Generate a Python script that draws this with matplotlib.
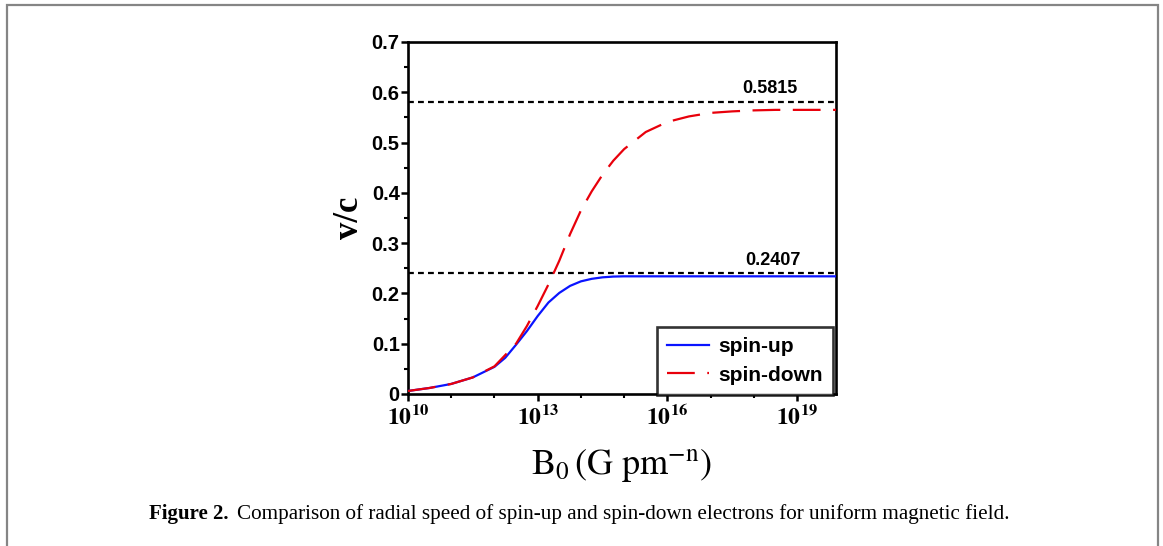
import matplotlib
matplotlib.use('Agg')
import matplotlib.pyplot as plt
from matplotlib.patches import Rectangle
from matplotlib.ticker import NullLocator, NullFormatter

# data (log10 of B0, v/c)
logB_up = [10.0, 10.5, 11.0, 11.5, 12.0, 12.25, 12.5, 12.75, 13.0, 13.25, 13.5, 13.75,
           14.0, 14.25, 14.5, 14.75, 15.0, 16.0, 17.0, 18.0, 19.0, 19.9]
v_up = [0.006, 0.012, 0.020, 0.033, 0.054, 0.072, 0.098, 0.125, 0.155, 0.182, 0.201, 0.215,
        0.224, 0.229, 0.232, 0.2335, 0.234, 0.234, 0.234, 0.234, 0.234, 0.234]

logB_down = [10.0, 10.5, 11.0, 11.5, 12.0, 12.5, 12.75, 13.0, 13.25, 13.5, 13.75, 14.0,
             14.25, 14.5, 14.75, 15.0, 15.5, 16.0, 16.5, 17.0, 17.5, 18.0, 18.5, 19.0, 19.9]
v_down = [0.006, 0.012, 0.020, 0.033, 0.055, 0.100, 0.135, 0.175, 0.218, 0.265, 0.318, 0.365,
          0.403, 0.436, 0.464, 0.487, 0.521, 0.541, 0.552, 0.559, 0.562, 0.564, 0.565, 0.565, 0.565]

limits = [0.5815, 0.2407]
limit_label_logB = [18.38, 18.45]

xmajor = [10, 13, 16, 19]
xminor = [11, 12, 14, 15, 17, 18]
yticks = [0, 0.1, 0.2, 0.3, 0.4, 0.5, 0.6, 0.7]
ytick_labels = ['0', '0.1', '0.2', '0.3', '0.4', '0.5', '0.6', '0.7']

plt.rcParams['mathtext.fontset'] = 'stix'
plt.rcParams['lines.scale_dashes'] = False

fig = plt.figure(figsize=(11.63, 5.46), dpi=100)
ax = fig.add_axes([0.3508, 0.2784, 0.368, 0.6447])

ax.plot([10 ** v for v in logB_up], v_up, color='#0a14ff', lw=1.6, label='spin-up', zorder=3)
ax.plot([10 ** v for v in logB_down], v_down, color='#e8000b', lw=1.6, dashes=(20, 9),
        label='spin-down', zorder=4)

for val, lx in zip(limits, limit_label_logB):
    ax.axhline(val, color='black', lw=1.6, dashes=(4.2, 3.0), zorder=2)
    ax.annotate('%.4f' % val, (10 ** lx, val), xytext=(0, 3), textcoords='offset points',
                ha='center', va='bottom', fontsize=13, fontweight='bold',
                family='Liberation Sans')

ax.set_xscale('log')
ax.set_xlim(10 ** 10, 10 ** 19.9)
ax.set_ylim(0, 0.7)

ax.set_xticks([10.0 ** v for v in xmajor])
ax.xaxis.set_minor_locator(NullLocator())
ax.set_xticks([10.0 ** v for v in xminor], minor=True)
ax.xaxis.set_minor_formatter(NullFormatter())
ax.set_xticklabels([r'$\mathbf{10^{%d}}$' % v for v in xmajor], fontsize=17)

ax.set_yticks(yticks)
ax.set_yticks([0.05, 0.15, 0.25, 0.35, 0.45, 0.55, 0.65], minor=True)
ax.set_yticklabels(ytick_labels, fontsize=14.5, fontweight='bold', family='Liberation Sans')

ax.tick_params(which='major', direction='out', length=5, width=1.8, pad=3)
ax.tick_params(axis='y', which='major', pad=1)
ax.tick_params(which='minor', direction='out', length=3, width=1.5)
ax.tick_params(top=False, right=False)
for s in ax.spines.values():
    s.set_linewidth(1.9)

ax.set_xlabel(r'$\mathrm{B_0\,(G\ pm^{-n})}$', fontsize=26)
ax.xaxis.set_label_coords(0.5, -0.15)
ax.set_ylabel('v/c', fontsize=25, fontweight='bold', family='Liberation Serif')
ax.yaxis.set_label_coords(-0.097, 0.5)

leg = ax.legend(loc='lower right', bbox_to_anchor=(0.994, -0.003),
                prop={'family': 'Liberation Sans', 'weight': 'bold', 'size': 15},
                frameon=True, fancybox=False, edgecolor='black', handlelength=2.0,
                handletextpad=0.45, labelspacing=0.45, borderaxespad=0.0, borderpad=0.5)
leg.get_frame().set_linewidth(1.9)
leg.set_zorder(10)

# page border and caption
fig.patches.append(Rectangle((7 / 1163, -0.1), 1151 / 1163, 1.1 - 5 / 546,
                             transform=fig.transFigure, fill=False, edgecolor='#858585',
                             lw=1.6))
fig.text(149 / 1163, 1 - 514 / 546, 'Figure 2.', fontsize=15, fontweight='bold',
         family='Liberation Serif', va='center')
fig.text(237 / 1163, 1 - 514 / 546,
         'Comparison of radial speed of spin-up and spin-down electrons for uniform magnetic field.',
         fontsize=15.2, family='Liberation Serif', va='center')

fig.savefig('out.png', dpi=100)
